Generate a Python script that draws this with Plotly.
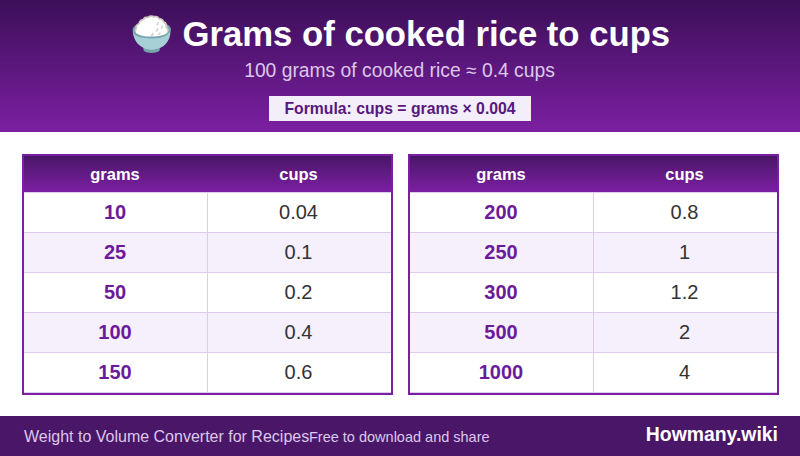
import plotly.graph_objects as go

# table data
grams_left = ["10", "25", "50", "100", "150"]
cups_left = ["0.04", "0.1", "0.2", "0.4", "0.6"]
grams_right = ["200", "250", "300", "500", "1000"]
cups_right = ["0.8", "1", "1.2", "2", "4"]
col_names = ["grams", "cups"]

title_text = "🍚 Grams of cooked rice to cups"
subtitle_text = "100 grams of cooked rice ≈ 0.4 cups"
formula_text = "Formula: cups = grams × 0.004"
footer_left = "Weight to Volume Converter for Recipes"
footer_mid = "Free to download and share"
footer_right = "Howmany.wiki"

FONT = "Liberation Sans"
DARK = "#4a1668"
PURPLE = "#7b1fa2"
TOP = "#3c0f58"
LINE = "#dccbec"
ALT = "#f5f0fb"
SOFT = "#dcc8ea"


def hex_rgb(c):
    return [int(c[i:i + 2], 16) for i in (1, 3, 5)]


def gradient(x0, x1, y0, y1, c0, c1):
    # plotly shapes have no gradient fill so stack 1px bands
    a, b = hex_rgb(c0), hex_rgb(c1)
    n = y1 - y0
    out = []
    for i in range(n):
        t = i / max(n - 1, 1)
        col = [round(a[k] + (b[k] - a[k]) * t) for k in range(3)]
        out.append(dict(type="rect", x0=x0, x1=x1, y0=y0 + i, y1=y0 + i + 1, layer="below",
                        line_width=0, fillcolor=f"rgb({col[0]},{col[1]},{col[2]})"))
    return out


def rect(x0, x1, y0, y1, fill):
    return dict(type="rect", x0=x0, x1=x1, y0=y0, y1=y1, layer="below", line_width=0, fillcolor=fill)


fig = go.Figure()
shapes = gradient(0, 800, 0, 132, TOP, PURPLE)
shapes.append(rect(269, 531, 96, 121, "#f4eefa"))
shapes.append(rect(0, 800, 416, 456, DARK))


def add_text(x, y, text, size, color, bold=False, pos="middle center"):
    fig.add_trace(go.Scatter(x=[x], y=[y], mode="text", text=[f"<b>{text}</b>" if bold else text],
                             textposition=pos, hoverinfo="skip", showlegend=False,
                             textfont=dict(family=FONT, size=size, color=color)))


def add_table(left, grams, cups):
    global shapes
    mid = left + 185
    right = left + 371
    shapes.append(rect(left, right, 154, 395, PURPLE))
    shapes.append(rect(left + 2, right - 2, 192, 393, "white"))
    shapes += gradient(left + 2, right - 2, 156, 192, DARK, PURPLE)
    for i in range(len(grams)):
        top = 192 + i * 40
        if i % 2 == 1:
            shapes.append(rect(left + 2, right - 2, top, top + 40, ALT))
    # lines go on after the fills or the striped rows cover them
    for i in range(len(grams)):
        top = 192 + i * 40
        shapes.append(rect(left + 2, right - 2, top + 40, top + 41, LINE))
    shapes.append(rect(mid, mid + 1, 192, 393, LINE))
    shapes.append(rect(left + 2, right - 2, 192, 193, LINE))
    cx = [(left + 2 + mid) / 2 - 0.5, (mid + right - 2) / 2 - 0.5]
    add_text(cx[0], 176, col_names[0], 16.5, "white", True)
    add_text(cx[1], 176, col_names[1], 16.5, "white", True)
    for i in range(len(grams)):
        cy = 214 + i * 40
        add_text(cx[0], cy, grams[i], 20, "#6a1b9a", True)
        add_text(cx[1], cy, cups[i], 20, "#333333")


add_table(22, grams_left, cups_left)
add_table(408, grams_right, cups_right)

add_text(400, 37, title_text, 34.7, "white", True)
add_text(399.5, 72, subtitle_text, 19.3, SOFT)
add_text(400, 110, formula_text, 15.75, "#56187e", True)
add_text(24, 438, footer_left, 16, SOFT, pos="middle right")
add_text(309, 438, footer_mid, 14.5, SOFT, pos="middle right")
add_text(778, 436, footer_right, 19.4, "white", True, pos="middle left")

fig.update_layout(width=800, height=456, margin=dict(l=0, r=0, t=0, b=0),
                  paper_bgcolor="white", plot_bgcolor="white", shapes=shapes,
                  xaxis=dict(range=[0, 800], visible=False, fixedrange=True),
                  yaxis=dict(range=[456, 0], visible=False, fixedrange=True))
# browser default body margin would shift the plot by 8px
fig.write_html("out.html", config=dict(displayModeBar=False),
               post_script="document.body.style.margin='0';document.body.style.overflow='hidden';")
